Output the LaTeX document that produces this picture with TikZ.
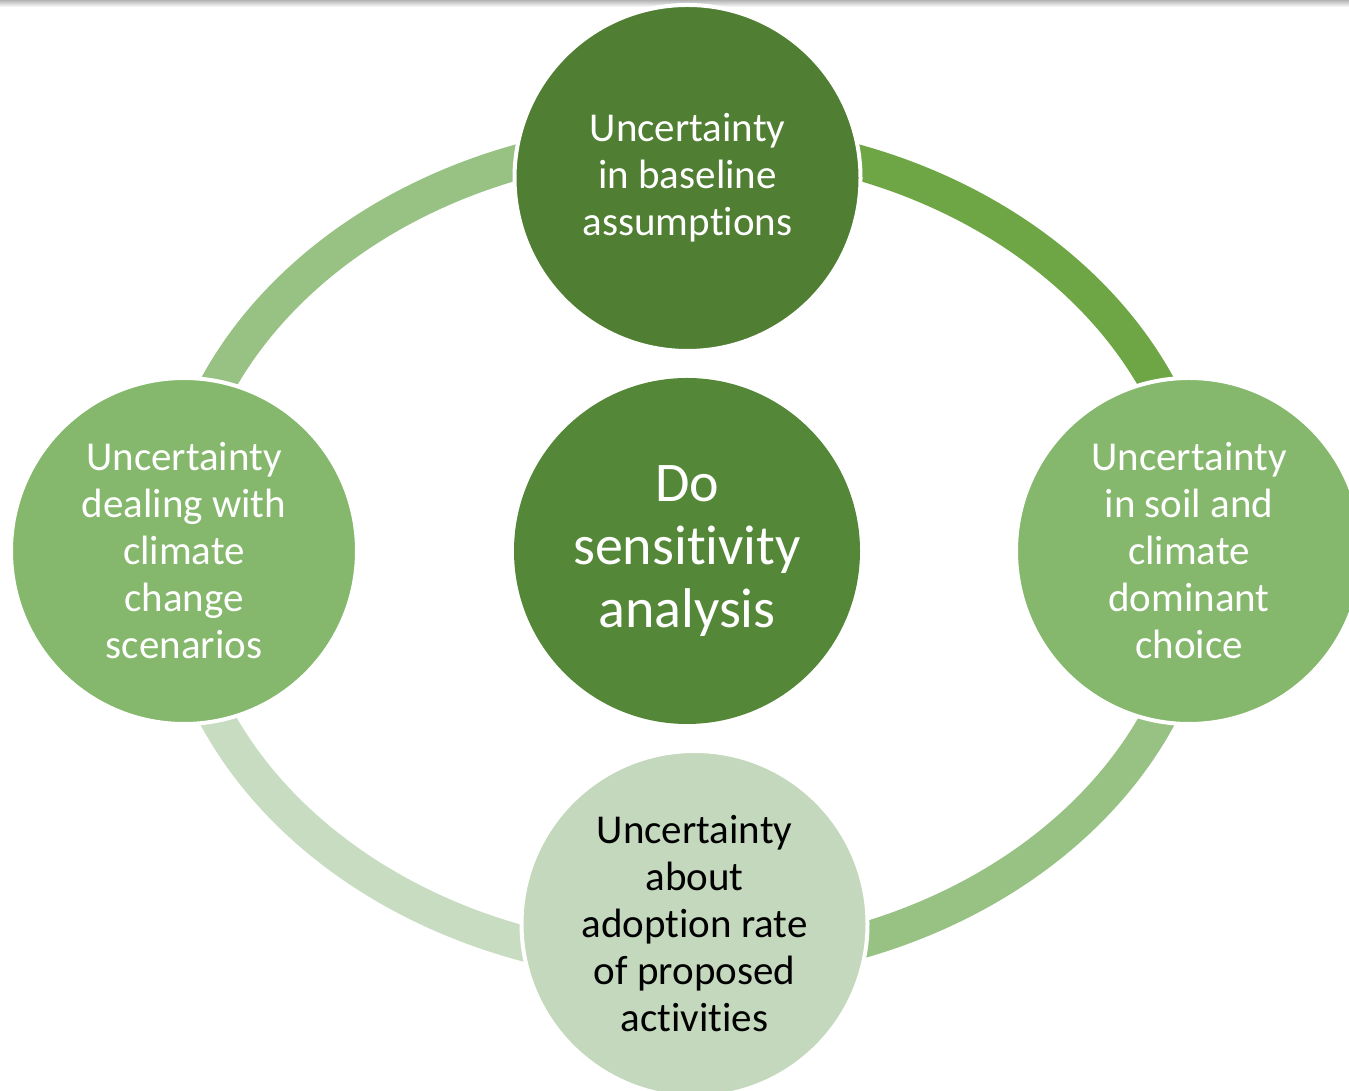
\documentclass[tikz,border=0pt]{standalone}
\usepackage{fontspec}
\setmainfont[Ligatures={NoCommon,NoRare,NoContextual}]{Carlito}
\definecolor{deepgreen}{RGB}{80,126,50}
\definecolor{hubgreen}{RGB}{85,135,56}
\definecolor{midgreen}{RGB}{133,184,108}
\definecolor{palegreen}{RGB}{195,216,188}
\definecolor{arcsoft}{RGB}{151,194,131}
\definecolor{arcstrong}{RGB}{111,166,69}
\definecolor{arcpale}{RGB}{200,220,194}
% keep "t" and "i" as separate letters
\newcommand{\tisep}{t\kern0pt i}
\begin{document}
\begin{tikzpicture}[x=1pt,y=1pt,
  ringpart/.style={line width=35pt},
  ringarc/.style={x radius=514pt, y radius=413pt},
  bubble/.style={circle, draw=white, line width=4pt, minimum size=346pt,
    inner sep=0pt, align=center, text=white,
    font=\fontsize{41}{47}\selectfont},
  hub/.style={circle, minimum size=346pt, inner sep=0pt, align=center,
    text=white, fill=hubgreen, font=\fontsize{56}{63}\selectfont}]
\useasboundingbox (0,0) rectangle (1349,1091);
\clip (0,0) rectangle (1349,1091);
% thin shadow along the top edge
\shade[top color=gray!60, bottom color=white] (0,1084) rectangle (1349,1091);

% the ring, in four coloured quarters
\coordinate (O) at (687.5,539);
\draw[ringpart, arcsoft] (O) ++(-514pt,0pt)
  arc[ringarc, start angle=180, end angle=90];
\draw[ringpart, arcstrong] (O) ++(0pt,413pt)
  arc[ringarc, start angle=90, end angle=0];
\draw[ringpart, arcsoft] (O) ++(514pt,0pt)
  arc[ringarc, start angle=0, end angle=-90];
\draw[ringpart, arcpale] (O) ++(0pt,-413pt)
  arc[ringarc, start angle=270, end angle=180];

% the four uncertainty circles and the central task
\node[bubble, fill=deepgreen] (top) at (687.5,913)
  {Uncertainty\\in baseline\\assump\tisep{}ons};
\node[bubble, fill=midgreen] (left) at (184,540)
  {Uncertainty\\dealing with\\climate\\change\\scenarios};
\node[bubble, fill=midgreen] (right) at (1189,540)
  {Uncertainty\\in soil and\\climate\\dominant\\choice};
\node[bubble, fill=palegreen, text=black] (bottom) at (694.5,167)
  {Uncertainty\\about\\adoption rate\\of proposed\\ac\tisep{}vi\tisep{}es};
\node[hub] (hub) at (687,540) {Do\\sensi\tisep{}vity\\analysis};
\end{tikzpicture}
\end{document}
